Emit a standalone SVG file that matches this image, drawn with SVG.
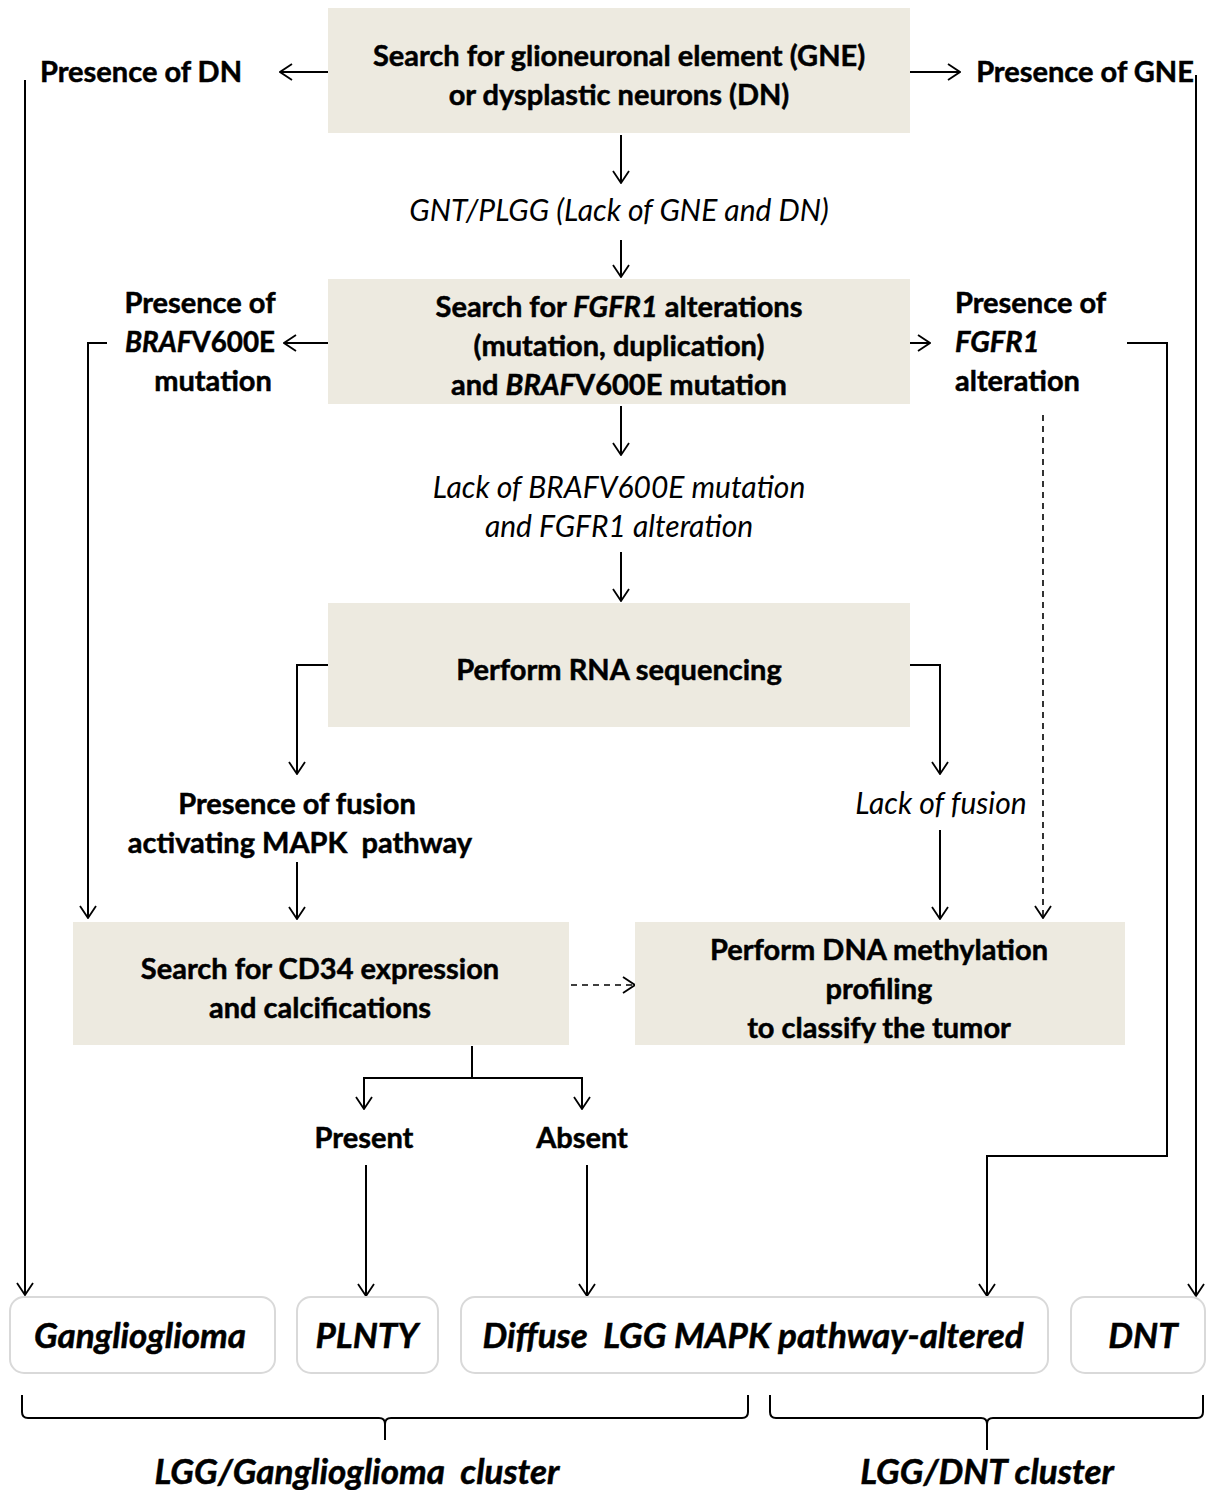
<svg xmlns="http://www.w3.org/2000/svg" width="1215" height="1490" viewBox="0 0 1215 1490">
<defs>
<marker id="ah" viewBox="-1 -1 14 18" refX="12" refY="8" markerWidth="14" markerHeight="18" markerUnits="userSpaceOnUse" orient="auto">
<path d="M0,0 L12,8 L0,16" fill="none" stroke="#000" stroke-width="1.8"/>
</marker>
</defs>
<style>
.box{fill:#EDEAE0;}
.rbox{fill:#fff;stroke:#D9D9D9;stroke-width:2;}
.t{font-family:Lato,"Liberation Sans",sans-serif;font-weight:bold;font-size:29px;fill:#000;stroke:#000;stroke-width:0.5;text-anchor:middle;}
.ti{font-family:Lato,"Liberation Sans",sans-serif;font-style:italic;font-size:30px;fill:#000;text-anchor:middle;}
.tb{font-family:Lato,"Liberation Sans",sans-serif;font-style:italic;font-weight:bold;font-size:35px;fill:#000;stroke:#000;stroke-width:0.5;text-anchor:middle;}
.c{fill:none;stroke:#000;stroke-width:2;}
.a{fill:none;stroke:#000;stroke-width:2;marker-end:url(#ah);}
.d{fill:none;stroke:#000;stroke-width:1.6;stroke-dasharray:6,5;marker-end:url(#ah);}
.l{text-anchor:start;}
</style>
<rect width="1215" height="1490" fill="#fff"/>

<g id="connectors">
<path class="a" d="M328,72 H280"/>
<path class="a" d="M910,72 H960"/>
<path class="a" d="M25,80 V1295"/>
<path class="a" d="M1196,75 V1296"/>
<path class="a" d="M621,135 V183"/>
<path class="a" d="M621,240 V277"/>
<path class="a" d="M328,343 H284"/>
<path class="a" d="M910,343 H930"/>
<path class="a" d="M107,343 H88 V918"/>
<path class="a" d="M1127,343 H1167 V1156 H987 V1296"/>
<path class="d" d="M1043,415 V918"/>
<path class="a" d="M621,406 V455"/>
<path class="a" d="M621,552 V601"/>
<path class="a" d="M328,665 H297 V774"/>
<path class="a" d="M910,665 H940 V774"/>
<path class="a" d="M297,862 V919"/>
<path class="a" d="M940,830 V919"/>
<path class="d" d="M571,985 H635"/>
<path class="c" d="M472,1046 V1078 M364,1078 H582"/>
<path class="a" d="M364,1077 V1109"/>
<path class="a" d="M582,1077 V1109"/>
<path class="a" d="M366,1165 V1296"/>
<path class="a" d="M587,1165 V1296"/>
<path class="c" d="M22,1395 V1412 Q22,1418 28,1418 H379 Q385,1418 385,1424 V1440 M385,1424 Q385,1418 391,1418 H742 Q748,1418 748,1412 V1395"/>
<path class="c" d="M770,1395 V1412 Q770,1418 776,1418 H981 Q987,1418 987,1424 V1450 M987,1424 Q987,1418 993,1418 H1197 Q1203,1418 1203,1412 V1395"/>
</g>

<g id="n-search-gne">
<rect class="box" x="328" y="8" width="582" height="125"/>
<text class="t" x="619" y="66">Search for glioneuronal element (GNE)</text>
<text class="t" x="619" y="105">or dysplastic neurons (DN)</text>
</g>
<g id="n-presence-dn"><text class="t" x="141" y="82">Presence of DN</text></g>
<g id="n-presence-gne"><text class="t" x="1085" y="82">Presence of GNE</text></g>
<g id="n-gnt"><text class="ti" x="619" y="221">GNT/PLGG (Lack of GNE and DN)</text></g>

<g id="n-search-fgfr1">
<rect class="box" x="328" y="279" width="582" height="125"/>
<text class="t" x="619" y="317">Search for <tspan font-style="italic">FGFR1</tspan> alterations</text>
<text class="t" x="619" y="356">(mutation, duplication)</text>
<text class="t" x="619" y="395">and <tspan font-style="italic">BRAF</tspan>V600E mutation</text>
</g>
<g id="n-presence-braf">
<text class="t" x="200" y="313">Presence of</text>
<text class="t" x="200" y="352" textLength="150" lengthAdjust="spacingAndGlyphs"><tspan font-style="italic">BRAF</tspan>V600E</text>
<text class="t" x="213" y="391">mutation</text>
</g>
<g id="n-presence-fgfr1">
<text class="t l" x="955" y="313">Presence of</text>
<text class="t l" x="955" y="352" font-style="italic">FGFR1</text>
<text class="t l" x="955" y="391">alteration</text>
</g>
<g id="n-lack-braf">
<text class="ti" x="619" y="498">Lack of BRAFV600E mutation</text>
<text class="ti" x="619" y="537">and FGFR1 alteration</text>
</g>

<g id="n-rna">
<rect class="box" x="328" y="603" width="582" height="124"/>
<text class="t" x="619" y="680">Perform RNA sequencing</text>
</g>
<g id="n-fusion">
<text class="t" x="297" y="814">Presence of fusion</text>
<text class="t" x="300" y="853">activating MAPK&#160; pathway</text>
</g>
<g id="n-lack-fusion"><text class="ti" x="941" y="814">Lack of fusion</text></g>

<g id="n-cd34">
<rect class="box" x="73" y="922" width="496" height="123"/>
<text class="t" x="320" y="979">Search for CD34 expression</text>
<text class="t" x="320" y="1018">and calcifications</text>
</g>
<g id="n-methyl">
<rect class="box" x="635" y="922" width="490" height="123"/>
<text class="t" x="879" y="960">Perform DNA methylation</text>
<text class="t" x="879" y="999">profiling</text>
<text class="t" x="879" y="1038">to classify the tumor</text>
</g>
<g id="n-present"><text class="t" x="364" y="1148">Present</text></g>
<g id="n-absent"><text class="t" x="582" y="1148">Absent</text></g>

<g id="n-ganglioglioma">
<rect class="rbox" x="10" y="1297" width="265" height="76" rx="14"/>
<text class="tb" x="140" y="1348">Ganglioglioma</text>
</g>
<g id="n-plnty">
<rect class="rbox" x="297" y="1297" width="141" height="76" rx="14"/>
<text class="tb" x="367" y="1348">PLNTY</text>
</g>
<g id="n-diffuse">
<rect class="rbox" x="461" y="1297" width="587" height="76" rx="14"/>
<text class="tb" x="753" y="1348">Diffuse&#160; LGG MAPK pathway-altered</text>
</g>
<g id="n-dnt">
<rect class="rbox" x="1071" y="1297" width="134" height="76" rx="14"/>
<text class="tb" x="1143" y="1348">DNT</text>
</g>
<g id="n-cluster1"><text class="tb" x="357" y="1484">LGG/Ganglioglioma&#160; cluster</text></g>
<g id="n-cluster2"><text class="tb" x="987" y="1484">LGG/DNT cluster</text></g>
</svg>
